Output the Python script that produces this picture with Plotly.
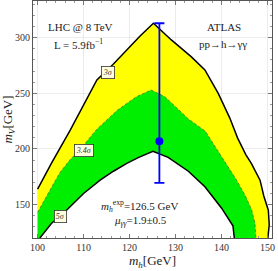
import plotly.graph_objects as go

# Outer 3-sigma contour (m_h, m_V)
outer_mh = [100, 103.0, 107.1, 112.9, 116.4, 122.3, 125.2, 129.1, 133.4, 136.4, 139.3, 141.8,
            143.5, 145.3, 146.5, 148.4, 149.2, 150.2, 150.4, 150.1]
outer_mv = [164, 187, 217, 262, 276, 301.5, 313, 298, 283, 271, 250, 228,
            210, 195, 187, 172, 158, 145, 132, 120]

# 3.4-sigma contour (yellow / green boundary)
mid_mh = [100, 102.0, 104.8, 107.0, 109.2, 112.8, 117.4, 121.5, 124.7, 127.7, 132.8, 136.5,
          138.0, 140.5, 143.3, 145.2, 146.6, 147.3, 147.5]
mid_mv = [143, 158, 178.5, 190, 199.4, 217.4, 235, 247, 253, 247, 227, 216,
          206, 190, 172, 158, 145, 133, 120]

# Inner 5-sigma contour
inner_mh = [100.5, 103.0, 106.3, 110.0, 113.6, 116.5, 119.4, 122.0, 125.1, 128.4, 132.8, 136.4,
            140.0, 142.5, 142.8]
inner_mv = [120, 133, 145, 160, 172, 180, 187, 192.5, 198, 192.5, 180, 166,
            147, 131, 120]

# Measurement point
pt_mh = [126.5]
pt_mv = [207]
pt_err_plus = [106]
pt_err_minus = [37.5]

YMIN = 120

fig = go.Figure()

fig.add_trace(go.Scatter(
    x=[100] + outer_mh + [100], y=[YMIN] + outer_mv + [YMIN],
    fill="toself", fillcolor="#ffff00", mode="none", hoverinfo="skip", showlegend=False))
fig.add_trace(go.Scatter(
    x=[100] + mid_mh + [100], y=[YMIN] + mid_mv + [YMIN],
    fill="toself", fillcolor="#00ee00", mode="none", hoverinfo="skip", showlegend=False))
fig.add_trace(go.Scatter(
    x=inner_mh + [inner_mh[0]], y=inner_mv + [inner_mv[0]],
    fill="toself", fillcolor="white", mode="none", hoverinfo="skip", showlegend=False))

fig.add_trace(go.Scatter(x=outer_mh, y=outer_mv, mode="lines",
                         line=dict(color="black", width=1.5),
                         hoverinfo="skip", showlegend=False))
fig.add_trace(go.Scatter(x=mid_mh, y=mid_mv, mode="lines",
                         line=dict(color="#335533", width=0.6, dash="3px,2px"),
                         hoverinfo="skip", showlegend=False))
fig.add_trace(go.Scatter(x=inner_mh, y=inner_mv, mode="lines",
                         line=dict(color="black", width=1.5),
                         hoverinfo="skip", showlegend=False))

fig.add_trace(go.Scatter(
    x=pt_mh, y=pt_mv, mode="markers",
    marker=dict(color="#0000ff", size=8),
    error_y=dict(type="data", symmetric=False, array=pt_err_plus, arrayminus=pt_err_minus,
                 color="#0000ff", thickness=1.8, width=5),
    hoverinfo="skip", showlegend=False))

serif = "Liberation Serif, Times New Roman, serif"

def box(x, y, t):
    fig.add_annotation(x=x, y=y, text="<i>" + t + "</i>", showarrow=False,
                       font=dict(family=serif, size=8, color="#333333"),
                       bgcolor="#ffffdd", bordercolor="#333333", borderwidth=0.8, borderpad=1)

box(115.3, 269, "3σ")
box(110.1, 199, "3.4σ")
box(104.9, 139, "5σ")

def txt(x, y, t, size=11):
    fig.add_annotation(x=x, y=y, text=t, showarrow=False,
                       font=dict(family=serif, size=size, color="#222222"))

txt(109.4, 309.6, "LHC @ 8 TeV")
txt(108.8, 294.3, "L = 5.9fb<sup>−1</sup>")
txt(140.6, 309.6, "ATLAS")
txt(140.3, 294.3, "pp→h→γγ")
txt(122.1, 148.5, "<i>m</i><sub><i>h</i></sub><sup>exp</sup>=126.5 GeV")
txt(122.3, 135.3, "<i>μ</i><sub><i>γγ</i></sub>=1.9±0.5")

axis_common = dict(
    showline=True, linecolor="#555555", linewidth=1, mirror="allticks",
    ticks="inside", ticklen=4, tickcolor="#777777",
    showgrid=True, gridcolor="rgba(200,200,200,0.35)", gridwidth=1,
    zeroline=False, layer="above traces",
    tickfont=dict(family=serif, size=10, color="#333333"),
)

fig.update_xaxes(range=[99, 151], tickvals=[100, 110, 120, 130, 140, 150],
                 minor=dict(dtick=2, ticks="inside", ticklen=2, tickcolor="#999999", showgrid=False),
                 title=dict(text="<i>m</i><sub><i>h</i></sub>[GeV]", font=dict(family=serif, size=13, color="#222222"),
                            standoff=2),
                 automargin=False, **axis_common)
fig.update_yaxes(range=[120, 333], tickvals=[150, 200, 250, 300],
                 minor=dict(dtick=10, ticks="inside", ticklen=2, tickcolor="#999999", showgrid=False),
                 title=dict(text="<i>m</i><sub><i>V</i></sub>[GeV]", font=dict(family=serif, size=13, color="#222222"),
                            standoff=2),
                 automargin=False, **axis_common)

fig.update_layout(width=278, height=271, margin=dict(l=33, r=6, t=1, b=33),
                  paper_bgcolor="white", plot_bgcolor="white")

fig.write_html("out.html", config={"displayModeBar": False},
               post_script="document.body.style.margin='0';document.body.style.padding='0';")
